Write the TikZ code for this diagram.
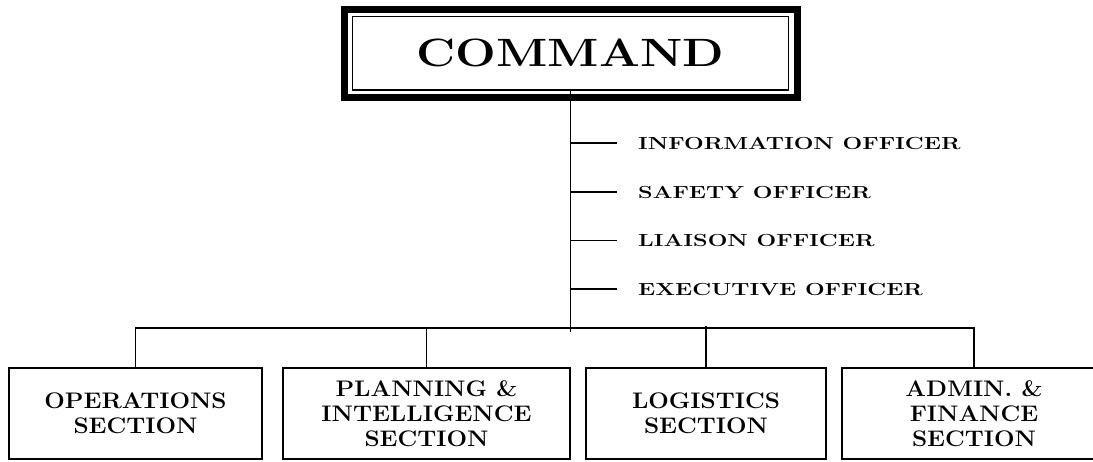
\documentclass[tikz,border=0pt]{standalone}
\usepackage{graphicx}
\newcommand{\etire}[2][1.08]{\scalebox{#1}[1]{#2}}
\begin{document}
\begin{tikzpicture}[x=1pt, y=-1pt,
    section/.style={draw, line width=1.8pt, inner sep=0pt, outer sep=0pt,
        minimum height=91pt, align=center,
        font=\fontsize{22.5}{25}\selectfont\bfseries},
    officier/.style={anchor=west, inner sep=0pt,
        font=\fontsize{17.5}{20}\selectfont\bfseries},
    lien/.style={line width=1.8pt}]
    % Cadre de la page
    \path[use as bounding box] (0,0) rectangle (1093,461);
    \clip (0,0) rectangle (1093,461);

    % Commandement (double cadre)
    \node[draw, line width=1.5pt, inner sep=0pt, outer sep=0pt,
        minimum width=436pt, minimum height=73.5pt,
        font=\fontsize{39.5}{44}\selectfont\bfseries]
        (cmd) at (570.5,53.25) {\etire[1.22]{COMMAND}};
    \draw[line width=7pt] ([shift={(-8.5,-7)}]cmd.north west)
        rectangle ([shift={(8.5,7.5)}]cmd.south east);

    % Officiers
    \node[officier] (info) at (638,143) {\etire[1.33]{INFORMATION OFFICER}};
    \node[officier] (safety) at (638,192) {\etire[1.33]{SAFETY OFFICER}};
    \node[officier] (liaison) at (638,240.5) {\etire[1.33]{LIAISON OFFICER}};
    \node[officier] (exec) at (638,289) {\etire[1.33]{EXECUTIVE OFFICER}};

    % Sections
    \node[section, minimum width=253pt] (ops) at (135.5,413.5)
        {\etire{OPERATIONS}\\\etire{SECTION}};
    \node[section, minimum width=287pt] (plan) at (426.5,413.5)
        {\etire{PLANNING \&}\\\etire{INTELLIGENCE}\\\etire{SECTION}};
    \node[section, minimum width=240pt] (log) at (706,413.5)
        {\etire{LOGISTICS}\\\etire{SECTION}};
    \node[section, minimum width=264pt] (admin) at (974,413.5)
        {\etire{ADMIN. \&}\\\etire{FINANCE}\\\etire{SECTION}};

    % Lignes reliant les boites
    \coordinate (barre) at (0,328);
    \coordinate (bas) at (570.5,332);
    \draw[lien] (cmd.south) -- (bas);
    \draw[lien] (info.west -| cmd.south) -- ([xshift=-21pt]info.west);
    \draw[lien] (safety.west -| cmd.south) -- ([xshift=-21pt]safety.west);
    \draw[lien] (liaison.west -| cmd.south) -- ([xshift=-21pt]liaison.west);
    \draw[lien] (exec.west -| cmd.south) -- ([xshift=-21pt]exec.west);
    \draw[lien] (ops.north) -- (ops.north |- barre) -- (admin.north |- barre) -- (admin.north);
    \draw[lien] (plan.north) -- (plan.north |- barre);
    \draw[lien] (log.north) -- ([yshift=2pt]log.north |- barre);

\end{tikzpicture}
\end{document}
